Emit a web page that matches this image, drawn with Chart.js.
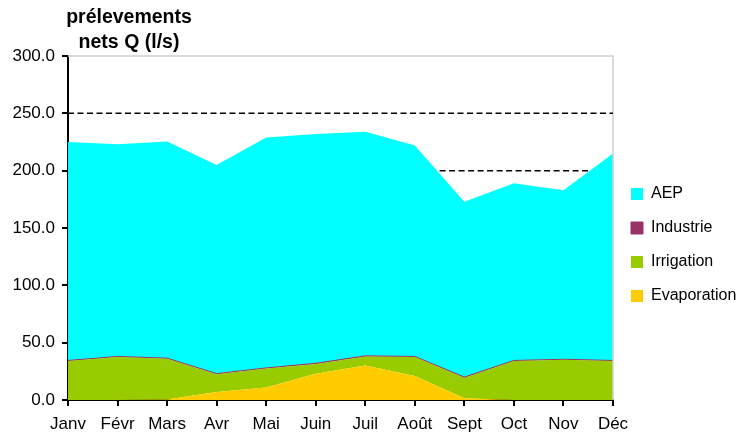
<!DOCTYPE html>
<html>
<head>
<meta charset="utf-8">
<title>prélevements nets</title>
<script src="https://cdn.jsdelivr.net/npm/chart.js"></script>
<style>
  body { margin: 0; background: #fff; }
</style>
</head>
<body>
<canvas id="chartCanvas" width="742" height="434"></canvas>
<script>
// data (l/s)
var mois = ['Janv', 'Févr', 'Mars', 'Avr', 'Mai', 'Juin', 'Juil', 'Août', 'Sept', 'Oct', 'Nov', 'Déc'];
var evaporation = [0, 0, 0.5, 7, 11, 23, 30, 21, 1.5, 0, 0, 0];
var irrigation = [34, 37.5, 35.5, 15.5, 16.5, 8.5, 8, 16.5, 18, 34, 35, 34];
var industrie = [0.5, 0.5, 0.5, 0.5, 0.5, 0.5, 0.5, 0.5, 0.5, 0.5, 0.5, 0.5];
var aep = [190.5, 185, 189, 182, 201, 200, 195.5, 184, 153, 154.5, 147.5, 180.5];
var yTicks = [0, 50, 100, 150, 200, 250, 300];

// dashed reference levels: value, start and end (month index)
var seuils = [250, 200];
var seuilDebut = [0, 7.5];
var seuilFin = [11, 10.5];

var fontFam = '"Liberation Sans", Arial, sans-serif';

var extras = {
    id: 'extras',
    beforeInit: function(chart) {
        var fit = chart.legend.fit;
        chart.legend.fit = function() {
            fit.bind(chart.legend)();
            this.width = 129;
        };
    },
    afterDatasetsDraw: function(chart) {
        var ctx = chart.ctx, a = chart.chartArea;
        var x = chart.scales.x, y = chart.scales.y;
        ctx.save();
        // light frame top / right
        ctx.strokeStyle = '#d0d0d0';
        ctx.lineWidth = 1.5;
        ctx.beginPath();
        ctx.moveTo(a.left, a.top);
        ctx.lineTo(a.right, a.top);
        ctx.lineTo(a.right, a.bottom);
        ctx.stroke();
        // dashed lines
        ctx.strokeStyle = '#000';
        ctx.lineWidth = 1.5;
        ctx.setLineDash([6, 3.5]);
        for (var i = 0; i < seuils.length; i++) {
            var py = y.getPixelForValue(seuils[i]);
            ctx.beginPath();
            ctx.moveTo(x.getPixelForValue(seuilDebut[i]), py);
            ctx.lineTo(x.getPixelForValue(seuilFin[i]), py);
            ctx.stroke();
        }
        ctx.restore();
    },
    afterDraw: function(chart) {
        var ctx = chart.ctx;
        ctx.save();
        ctx.fillStyle = '#000';
        ctx.font = 'bold 19.5px ' + fontFam;
        ctx.textAlign = 'center';
        ctx.textBaseline = 'middle';
        ctx.fillText('prélevements', 129, 18);
        ctx.fillText('nets Q (l/s)', 129, 43);
        ctx.restore();
    }
};

function serie(label, values, color, fill, border) {
    return {
        label: label,
        data: values,
        backgroundColor: color,
        borderColor: color,
        borderWidth: border,
        fill: fill,
        pointRadius: 0,
        tension: 0
    };
}

var ctx = document.getElementById('chartCanvas').getContext('2d');
var chart = new Chart(ctx, {
    type: 'line',
    data: {
        labels: mois,
        datasets: [
            serie('Evaporation', evaporation, '#FFCC00', 'origin', 0),
            serie('Irrigation', irrigation, '#99CC00', '-1', 0),
            serie('Industrie', industrie, '#993366', '-1', 1),
            serie('AEP', aep, '#00FFFF', '-1', 0)
        ]
    },
    options: {
        responsive: false,
        animation: false,
        layout: { padding: { top: 56, left: 0, right: 0, bottom: 0 } },
        plugins: {
            tooltip: { enabled: false },
            legend: {
                position: 'right',
                reverse: true,
                labels: {
                    boxWidth: 12,
                    boxHeight: 12,
                    padding: 18,
                    color: '#000',
                    font: { family: fontFam, size: 16 }
                }
            }
        },
        scales: {
            x: {
                afterFit: function(s) { s.height = 34; },
                grid: { drawOnChartArea: false, color: '#000', tickLength: 6, lineWidth: 2 },
                border: { color: '#000', width: 2 },
                ticks: { color: '#000', padding: 8, maxRotation: 0, autoSkip: false, font: { family: fontFam, size: 17 } }
            },
            y: {
                stacked: true,
                min: 0,
                max: 300,
                afterFit: function(s) { s.width = 68; },
                afterBuildTicks: function(s) { s.ticks = yTicks.map(function(v) { return { value: v }; }); },
                grid: { drawOnChartArea: false, color: '#000', tickLength: 6, lineWidth: 2 },
                border: { color: '#000', width: 2 },
                ticks: {
                    color: '#000',
                    padding: 7,
                    font: { family: fontFam, size: 17 },
                    callback: function(v) { return v.toFixed(1); }
                }
            }
        }
    },
    plugins: [extras]
});
</script>
</body>
</html>
